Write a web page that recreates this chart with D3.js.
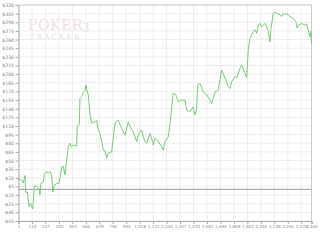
<!DOCTYPE html>
<html>
<head>
<meta charset="utf-8">
<script src="https://cdn.jsdelivr.net/npm/d3@7"></script>
<style>
  body { margin: 0; background: #fff; }
  .tick text { font-family: "DejaVu Sans", sans-serif; font-size: 4.6px; fill: #888; }
  .xAxis .tick text { font-size: 4.1px; }
</style>
</head>
<body>
<div id="chartContainer"></div>
<script>
// hand number (x) and cumulative winnings in dollars (y)
const hands = [1, 28, 41, 56, 61, 75, 89, 103, 112, 120, 134, 154, 176, 181, 190, 209, 217, 238, 251, 265,
    280, 288, 301, 322, 343, 364, 377, 391, 405, 419, 433, 447, 461, 489, 494, 511, 517, 531, 545, 559,
    567, 578, 587, 601, 615, 643, 657, 671, 685, 699, 713, 727, 741, 754, 783, 796, 811, 825, 838, 853,
    880, 895, 922, 937, 964, 993, 1006, 1035, 1048, 1062, 1077, 1104, 1118, 1132, 1146, 1174, 1203, 1216, 1230, 1258,
    1272, 1287, 1295, 1300, 1322, 1342, 1370, 1398, 1412, 1440, 1468, 1482, 1496, 1505, 1524, 1552, 1580, 1608, 1622, 1650,
    1678, 1692, 1706, 1720, 1734, 1762, 1776, 1790, 1818, 1832, 1860, 1874, 1887, 1901, 1916, 1929, 1943, 1958, 1971, 1986,
    2000, 2013, 2027, 2042, 2055, 2069, 2084, 2097, 2111, 2119, 2139, 2153, 2167, 2195, 2209, 2223, 2237, 2251, 2279, 2307,
    2329, 2340, 2349, 2377, 2405, 2419, 2432, 2447, 2455, 2460];
const winnings = [18, 16, 11, 24, -5, -5, -30, -24, -30, -34, 6, 5, -1, -10, 11, 13, 25, 31, 28, 31,
    25, -5, 7, 10, 11, 39, 40, 25, 51, 74, 80, 74, 77, 75, 109, 112, 158, 161, 168, 171,
    181, 169, 164, 129, 115, 117, 120, 103, 97, 83, 68, 67, 54, 63, 65, 89, 115, 117, 120, 112,
    100, 94, 117, 109, 100, 83, 94, 103, 91, 83, 80, 97, 89, 77, 89, 83, 74, 68, 83, 91,
    112, 143, 158, 167, 164, 152, 155, 155, 138, 135, 143, 129, 138, 181, 184, 169, 164, 155, 149, 169,
    172, 190, 207, 201, 193, 178, 175, 187, 196, 193, 210, 216, 210, 201, 194, 242, 262, 268, 274, 277,
    271, 285, 288, 282, 285, 288, 282, 274, 256, 277, 306, 308, 306, 303, 300, 306, 303, 306, 300, 297,
    291, 280, 285, 288, 285, 287, 277, 265, 274, 252];

const xTicks = [1, 114, 227, 340, 453, 566, 679, 792, 905, 1018, 1131, 1244, 1357, 1470, 1583, 1696,
    1809, 1922, 2035, 2148, 2261, 2374, 2460];
const yTicks = [320, 305, 290, 275, 260, 245, 230, 215, 200, 185, 170, 155, 140, 125, 110, 95, 80, 65,
    50, 35, 20, 5, -10, -25, -40, -55];

const chartWidth = 320, chartHeight = 245;
const plotLeft = 18.5, plotRight = 311.5, plotTop = 5, plotBottom = 221;

const svg = d3.select('#chartContainer').append('svg')
    .attr('width', chartWidth)
    .attr('height', chartHeight);

const x = d3.scaleLinear().domain([1, 2460]).range([plotLeft, plotRight]);
const y = d3.scaleLinear().domain([-55, 320]).range([plotBottom, plotTop]);

// watermark
const mark = svg.append('g').attr('font-family', '"DejaVu Serif", serif');
mark.append('text')
    .attr('x', 28).attr('y', 30)
    .attr('font-size', 14).attr('letter-spacing', 0.6)
    .attr('fill', '#f2dcdc')
    .text('POKER');
mark.append('text')
    .attr('x', 82).attr('y', 32)
    .attr('font-size', 12)
    .attr('fill', '#dcebd8')
    .text('3');
mark.append('text')
    .attr('x', 30).attr('y', 38.5)
    .attr('font-size', 7).attr('letter-spacing', 2.2)
    .attr('fill', '#e0e0e0')
    .text('TRACKER');

// grid
svg.append('g')
    .selectAll('line')
    .data(xTicks)
    .join('line')
    .attr('x1', d => x(d)).attr('x2', d => x(d))
    .attr('y1', plotTop).attr('y2', plotBottom)
    .attr('stroke', '#eeeeee');
svg.append('g')
    .selectAll('line')
    .data(yTicks)
    .join('line')
    .attr('x1', plotLeft).attr('x2', plotRight)
    .attr('y1', d => y(d)).attr('y2', d => y(d))
    .attr('stroke', '#eeeeee');

// frame top and right
svg.append('path')
    .attr('d', `M${plotLeft},${plotTop}H${plotRight}V${plotBottom}`)
    .attr('fill', 'none')
    .attr('stroke', '#cccccc');

// zero line
svg.append('line')
    .attr('x1', plotLeft).attr('x2', plotRight)
    .attr('y1', y(0)).attr('y2', y(0))
    .attr('stroke', '#999999');

const fmt = d3.format(',');

const yAxis = svg.append('g')
    .attr('transform', `translate(${plotLeft},0)`)
    .call(d3.axisLeft(y).tickValues(yTicks).tickSize(3).tickPadding(1.5)
        .tickFormat(d => (d < 0 ? '-$' : '$') + Math.abs(d)));
const xAxis = svg.append('g')
    .attr('class', 'xAxis')
    .attr('transform', `translate(0,${plotBottom})`)
    .call(d3.axisBottom(x).tickValues(xTicks).tickSize(3).tickPadding(1.5)
        .tickFormat(d => fmt(d)));
[yAxis, xAxis].forEach(a => {
    a.select('.domain').attr('stroke', '#aaaaaa');
    a.selectAll('.tick line').attr('stroke', '#aaaaaa');
});

// winnings line
const line = d3.line()
    .x((d, i) => x(hands[i]))
    .y(d => y(d));
svg.append('path')
    .datum(winnings)
    .attr('fill', 'none')
    .attr('stroke', '#6cc46c')
    .attr('stroke-width', 0.9)
    .attr('d', line);
</script>
</body>
</html>
